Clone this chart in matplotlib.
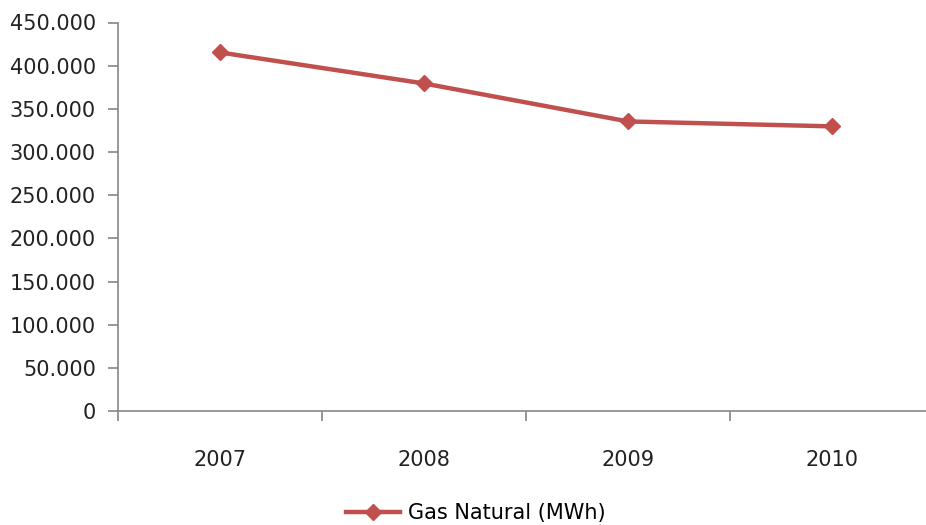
import matplotlib.pyplot as plt
from matplotlib.ticker import FuncFormatter, FixedLocator

# Datos
anios = ["2007", "2008", "2009", "2010"]
gas_natural = [415300, 379400, 335400, 329700]

color_serie = "#C0504D"
gris = "#868686"

fig = plt.figure(figsize=(9.26, 5.25), dpi=100)
ax = fig.add_axes([118 / 926, 1 - 411 / 525, 816 / 926, (411 - 22.5) / 525])

x = range(len(anios))
ax.plot(x, gas_natural, color=color_serie, lw=3.2, marker="D", ms=8,
        label="Gas Natural (MWh)")

ax.set_xlim(-0.5, len(anios) - 0.5)
ax.set_ylim(0, 450000)
ax.set_yticks(range(0, 450001, 50000))
ax.yaxis.set_major_formatter(
    FuncFormatter(lambda v, p: "0" if v == 0 else f"{int(v):,}".replace(",", ".")))

ax.set_xticks(list(x))
ax.set_xticklabels(anios)
ax.xaxis.set_minor_locator(FixedLocator([i - 0.5 for i in range(len(anios) + 1)]))
ax.tick_params(axis="x", which="major", length=0, pad=28, labelsize=15, colors="#222222")
ax.tick_params(axis="x", which="minor", length=7, width=1.2, color=gris, direction="out")
ax.tick_params(axis="y", length=7, width=1.2, color=gris, pad=9, labelsize=15,
               labelcolor="#222222")

for s in ["top", "right"]:
    ax.spines[s].set_visible(False)
for s in ["left", "bottom"]:
    ax.spines[s].set_color(gris)
    ax.spines[s].set_linewidth(1.2)

fig.legend(loc="center", bbox_to_anchor=(0.514, 1 - 513 / 525), frameon=False,
           fontsize=15, handlelength=2.6, handletextpad=0.4)

fig.savefig("out.png", dpi=100)
